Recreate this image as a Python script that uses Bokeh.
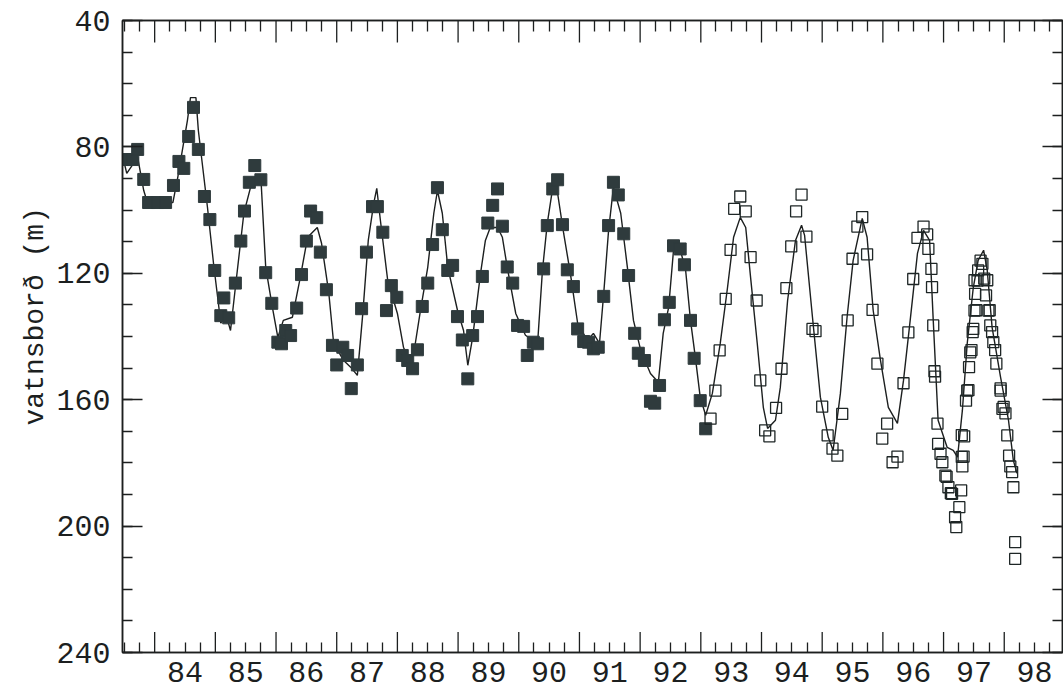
from bokeh.plotting import figure
from bokeh.models import Range1d, LinearAxis, FixedTicker, Title
from bokeh.embed import file_html
from bokeh.resources import INLINE

# ---- data (two-digit decimal years, water level in m) ----
years = list(range(84, 99))
year_labels = [str(y) for y in years]
y_major = [40, 80, 120, 160, 200, 240]
y_minor = list(range(40, 241, 10))

filled_x = [83.52, 83.64, 83.72, 83.82, 83.90, 84.05, 84.18, 84.31, 84.40, 84.48,
            84.56, 84.64, 84.72, 84.82, 84.91, 84.99, 85.09, 85.14, 85.22, 85.33,
            85.42, 85.48, 85.56, 85.65, 85.75, 85.83, 85.93, 86.03, 86.09, 86.16,
            86.24, 86.34, 86.42, 86.50, 86.57, 86.67, 86.73, 86.83, 86.93, 87.00,
            87.10, 87.18, 87.24, 87.34, 87.41, 87.49, 87.59, 87.67, 87.76, 87.82,
            87.90, 87.99, 88.08, 88.17, 88.25, 88.33, 88.41, 88.50, 88.58, 88.66,
            88.74, 88.83, 88.91, 88.99, 89.07, 89.16, 89.24, 89.32, 89.40, 89.49,
            89.57, 89.65, 89.73, 89.81, 89.90, 89.98, 90.08, 90.14, 90.24, 90.31,
            90.41, 90.47, 90.56, 90.64, 90.72, 90.80, 90.90, 90.97, 91.07, 91.15,
            91.23, 91.31, 91.40, 91.48, 91.56, 91.64, 91.73, 91.81, 91.91, 91.97,
            92.07, 92.17, 92.24, 92.32, 92.40, 92.48, 92.55, 92.66, 92.73, 92.83,
            92.89, 92.99, 93.08]
filled_y = [84.0, 84.0, 80.8, 90.3, 97.6, 97.6, 97.6, 92.2, 84.6, 86.8,
            76.7, 67.5, 80.8, 95.7, 103.0, 119.1, 133.4, 127.8, 134.1, 123.1,
            109.8, 100.3, 91.2, 85.9, 90.4, 119.8, 129.5, 141.8, 142.3, 138.1,
            139.7, 131.0, 120.4, 109.8, 100.3, 102.4, 113.3, 125.2, 142.8, 149.0,
            143.4, 146.0, 156.5, 149.0, 131.2, 113.3, 98.9, 98.9, 107.0, 131.8,
            123.9, 127.6, 146.0, 147.6, 150.2, 144.2, 130.5, 123.1, 110.9, 92.9,
            106.2, 119.1, 117.5, 133.7, 141.1, 153.4, 139.7, 133.7, 121.0, 104.1,
            98.5, 93.3, 105.1, 118.0, 123.1, 136.5, 136.8, 146.0, 141.8, 142.3,
            118.6, 104.9, 93.3, 90.4, 104.6, 118.9, 124.2, 137.6, 141.6, 141.8,
            143.9, 143.4, 127.3, 104.9, 91.2, 95.2, 107.5, 120.7, 139.0, 145.3,
            147.6, 160.5, 161.1, 155.5, 134.7, 129.2, 111.3, 112.3, 117.3, 134.9,
            146.9, 160.3, 169.2]

open_x = [93.16, 93.24, 93.31, 93.41, 93.49, 93.55, 93.65, 93.74, 93.82, 93.92,
          93.98, 94.06, 94.13, 94.24, 94.33, 94.41, 94.49, 94.57, 94.66, 94.74,
          94.84, 94.89, 95.00, 95.09, 95.17, 95.25, 95.33, 95.42, 95.50, 95.58,
          95.66, 95.74, 95.83, 95.91, 95.99, 96.07, 96.16, 96.24, 96.34, 96.42,
          96.50, 96.57, 96.67, 96.73, 96.75, 96.80, 96.81, 96.83, 96.85, 96.86,
          96.90, 96.91, 96.95, 96.98, 97.03, 97.05, 97.08, 97.12, 97.14, 97.19,
          97.21, 97.26, 97.29, 97.30, 97.30, 97.31, 97.33, 97.34, 97.37, 97.39,
          97.41, 97.42, 97.44, 97.46, 97.48, 97.49, 97.51, 97.51, 97.52, 97.54,
          97.56, 97.57, 97.61, 97.64, 97.67, 97.70, 97.72, 97.74, 97.76, 97.77,
          97.80, 97.82, 97.85, 97.87, 97.94, 97.94, 97.97, 97.99, 98.02, 98.05,
          98.08, 98.10, 98.13, 98.15, 98.18, 98.18]
open_y = [166.0, 157.1, 144.4, 128.1, 112.6, 99.6, 95.7, 100.4, 114.9, 128.6,
          153.9, 169.7, 171.6, 162.6, 150.2, 124.7, 111.5, 100.4, 95.1, 108.4,
          137.6, 138.3, 162.2, 171.3, 175.5, 177.7, 164.5, 134.9, 115.4, 105.2,
          102.2, 114.0, 131.6, 148.6, 172.3, 167.6, 179.8, 178.0, 154.8, 138.7,
          121.8, 108.8, 105.2, 107.7, 112.3, 118.6, 124.4, 136.5, 151.0, 152.7,
          167.6, 174.0, 177.1, 179.8, 184.0, 184.4, 187.7, 189.6, 189.8, 197.2,
          200.3, 194.0, 188.7, 171.2, 178.1, 181.1, 178.0, 171.6, 160.3, 157.1,
          157.0, 149.7, 145.0, 144.3, 138.6, 137.6, 131.8, 122.2, 126.5, 131.7,
          122.3, 119.1, 116.0, 117.0, 121.7, 127.0, 122.2, 131.8, 131.7, 136.5,
          138.6, 141.8, 144.3, 148.6, 157.1, 156.4, 162.9, 162.3, 164.3, 171.3,
          177.7, 181.1, 182.9, 187.7, 205.1, 210.4]

fit_x = [83.49, 83.54, 83.72, 83.82, 83.88, 84.30, 84.38, 84.54, 84.59, 84.68,
         84.72, 84.87, 84.97, 85.09, 85.17, 85.25, 85.33, 85.47, 85.58, 85.75,
         85.83, 85.94, 86.03, 86.12, 86.27, 86.40, 86.52, 86.68, 86.75, 86.87,
         86.95, 87.11, 87.23, 87.34, 87.43, 87.52, 87.61, 87.66, 87.72, 87.84,
         88.00, 88.10, 88.17, 88.27, 88.38, 88.50, 88.60, 88.66, 88.74, 88.83,
         88.99, 89.09, 89.16, 89.24, 89.37, 89.45, 89.53, 89.65, 89.73, 89.81,
         89.95, 90.11, 90.31, 90.39, 90.47, 90.57, 90.64, 90.74, 90.85, 90.97,
         91.13, 91.23, 91.33, 91.40, 91.48, 91.56, 91.68, 91.79, 91.89, 92.01,
         92.17, 92.30, 92.38, 92.47, 92.55, 92.63, 92.75, 92.83, 92.91, 92.99,
         93.08, 93.19, 93.32, 93.44, 93.54, 93.65, 93.74, 93.82, 93.93, 94.03,
         94.10, 94.23, 94.31, 94.43, 94.56, 94.66, 94.71, 94.84, 94.97, 95.10,
         95.18, 95.30, 95.41, 95.51, 95.66, 95.74, 95.84, 95.96, 96.09, 96.24,
         96.34, 96.45, 96.57, 96.67, 96.77, 96.83, 96.91, 97.06, 97.16, 97.23,
         97.31, 97.39, 97.49, 97.57, 97.66, 97.72, 97.80, 97.94, 98.07, 98.15,
         98.21]
fit_y = [84.3, 88.4, 83.3, 93.8, 97.6, 97.6, 89.7, 71.6, 64.4, 64.4,
         74.8, 99.1, 116.9, 135.8, 132.7, 138.1, 124.5, 101.0, 92.8, 89.7,
         118.1, 130.8, 140.3, 134.9, 133.9, 121.3, 108.6, 105.5, 110.5, 126.3,
         142.2, 147.5, 149.7, 152.3, 132.7, 109.6, 97.9, 93.1, 103.3, 122.2,
         132.7, 143.4, 146.6, 145.3, 131.7, 118.1, 101.0, 93.8, 101.0, 118.1,
         131.7, 138.1, 149.1, 140.3, 120.0, 109.6, 105.5, 105.5, 108.6, 118.1,
         132.7, 139.6, 142.2, 119.1, 104.2, 91.6, 94.7, 107.4, 120.0, 135.8,
         141.2, 139.0, 142.2, 126.3, 106.4, 92.8, 101.0, 118.1, 134.9, 144.4,
         151.7, 154.5, 139.0, 130.8, 112.7, 110.2, 119.1, 134.9, 146.6, 159.2,
         164.9, 158.0, 142.2, 124.5, 108.6, 102.3, 105.5, 121.3, 142.2, 162.4,
         169.1, 166.5, 156.1, 128.6, 109.6, 104.8, 108.0, 133.9, 159.2, 171.9,
         176.0, 158.0, 133.9, 115.9, 102.6, 108.6, 131.7, 147.5, 162.4, 167.5,
         153.9, 134.9, 113.7, 106.4, 109.6, 134.9, 166.5, 175.1, 176.0, 178.2,
         163.4, 142.2, 124.5, 115.9, 112.7, 119.1, 137.1, 152.9, 166.5, 179.2,
         183.3]

INK = "#1c1f1f"
FONT = "Liberation Mono"

p = figure(width=1063, height=690, output_backend="svg", toolbar_location=None,
           x_range=Range1d(83.47, 98.96), y_range=Range1d(240, 40),
           x_axis_location=None, y_axis_location=None,
           min_border_left=122, min_border_right=1, min_border_top=20,
           min_border_bottom=38)
p.xgrid.visible = False
p.ygrid.visible = False
p.outline_line_color = INK
p.outline_line_width = 1.5
p.background_fill_color = "white"
p.border_fill_color = "white"

label_pos = [y + 0.5 for y in years]
quarters = [y + q for y in range(83, 99) for q in (0.25, 0.5, 0.75)
            if 83.47 < y + q < 98.96]


def style(ax, labels=True):
    ax.axis_line_color = INK
    ax.axis_line_width = 1.5
    ax.major_tick_line_color = INK
    ax.minor_tick_line_color = INK
    ax.major_tick_line_width = 1.3
    ax.minor_tick_line_width = 1.3
    ax.major_tick_out = 0
    ax.minor_tick_out = 0
    ax.major_label_text_font = FONT
    if labels:
        ax.major_label_text_color = INK
        ax.major_label_text_font_size = "30px"
        ax.major_label_standoff = 12
    else:
        ax.major_label_text_color = None
        ax.major_label_text_font_size = "1px"
        ax.major_label_standoff = 0


bottom = LinearAxis(ticker=FixedTicker(ticks=label_pos, minor_ticks=quarters),
                    major_label_overrides={pos: lab for pos, lab in zip(label_pos, year_labels)})
style(bottom)
bottom.major_tick_in = 0
bottom.minor_tick_in = 10
bottom.major_label_standoff = 9
p.add_layout(bottom, "below")

top = LinearAxis(ticker=FixedTicker(ticks=label_pos, minor_ticks=quarters))
style(top, labels=False)
top.major_tick_in = 0
top.minor_tick_in = 11
p.add_layout(top, "above")

left = LinearAxis(ticker=FixedTicker(ticks=y_major, minor_ticks=y_minor))
style(left)
left.major_tick_in = 20
left.minor_tick_in = 10
p.add_layout(left, "left")

ytitle = Title(text="vatnsborð (m)", align="left", offset=227,
               text_font=FONT, text_font_size="28px", text_font_style="normal",
               text_color=INK, standoff=6)
p.add_layout(ytitle, "left")

right = LinearAxis(ticker=FixedTicker(ticks=y_major, minor_ticks=y_minor))
style(right, labels=False)
right.major_tick_in = 20
right.minor_tick_in = 10
p.add_layout(right, "right")

# long year ticks (year boundaries) on bottom and top frame edges
p.segment(x0=years, x1=years, y0=[240] * len(years), y1=[233.5] * len(years),
          line_color=INK, line_width=1.3)
p.segment(x0=years, x1=years, y0=[40] * len(years), y1=[47] * len(years),
          line_color=INK, line_width=1.3)

# fitted curve
p.line(fit_x, fit_y, line_color=INK, line_width=1.4)

# observations
p.scatter(filled_x, filled_y, marker="square", size=12,
          fill_color="#2f3b3d", line_color="#2f3b3d", line_width=1)
p.scatter(open_x, open_y, marker="square", size=11,
          fill_alpha=0, line_color="#1e2626", line_width=1.3)

open("out.html", "w").write(file_html(p, INLINE))
